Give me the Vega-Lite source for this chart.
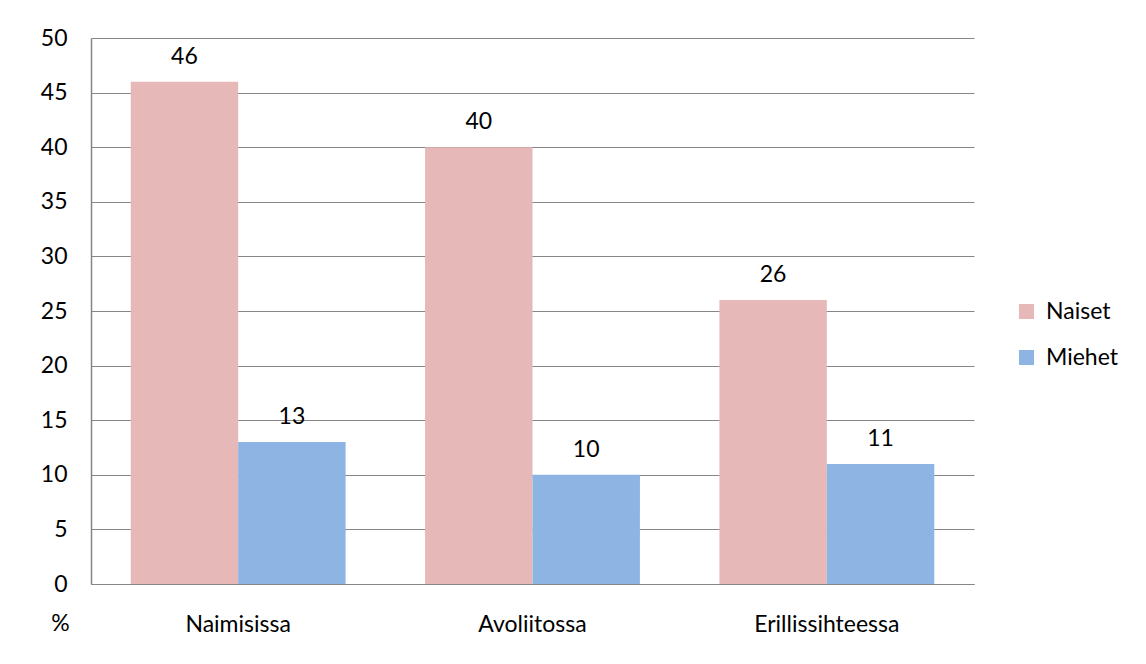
{
  "$schema": "https://vega.github.io/schema/vega-lite/v6.json",
  "width": 883,
  "height": 546,
  "autosize": {"type": "none"},
  "padding": {"left": 91, "top": 38, "right": 172, "bottom": 80},
  "background": "white",
  "config": {
    "font": "Lato",
    "view": {"stroke": null},
    "axis": {"labelFont": "Lato", "titleFont": "Lato", "labelColor": "#000", "titleColor": "#000"}
  },
  "data": {
    "values": [
      {"kategoria": "Naimisissa", "sukupuoli": "Naiset", "arvo": 46},
      {"kategoria": "Naimisissa", "sukupuoli": "Miehet", "arvo": 13},
      {"kategoria": "Avoliitossa", "sukupuoli": "Naiset", "arvo": 40},
      {"kategoria": "Avoliitossa", "sukupuoli": "Miehet", "arvo": 10},
      {"kategoria": "Erillissihteessa", "sukupuoli": "Naiset", "arvo": 26},
      {"kategoria": "Erillissihteessa", "sukupuoli": "Miehet", "arvo": 11}
    ]
  },
  "encoding": {
    "x": {
      "field": "kategoria", "type": "nominal", "sort": null,
      "scale": {"paddingInner": 0.27, "paddingOuter": 0.135},
      "axis": {"title": null, "labelAngle": 0, "labelFontSize": 23, "labelPadding": 29, "ticks": false, "domainColor": "#868686", "domainWidth": 1}
    },
    "xOffset": {"field": "sukupuoli", "type": "nominal", "sort": ["Naiset", "Miehet"], "scale": {"paddingInner": 0, "paddingOuter": 0}},
    "y": {
      "field": "arvo", "type": "quantitative",
      "scale": {"domain": [0, 50], "nice": false},
      "axis": {
        "values": [0, 5, 10, 15, 20, 25, 30, 35, 40, 45, 50],
        "title": "%", "titleAngle": 0, "titleFontSize": 23, "titleFontWeight": "normal",
        "titleX": -31, "titleY": 585, "titleBaseline": "middle", "titleAlign": "center",
        "labelFontSize": 23, "labelPadding": 24, "ticks": false,
        "grid": true, "gridColor": "#868686", "gridWidth": 1,
        "domainColor": "#868686", "domainWidth": 1.5
      }
    }
  },
  "layer": [
    {
      "mark": {"type": "bar"},
      "encoding": {
        "color": {
          "field": "sukupuoli", "type": "nominal", "sort": ["Naiset", "Miehet"],
          "scale": {"domain": ["Naiset", "Miehet"], "range": ["#E6B9B8", "#8EB4E3"]},
          "legend": {
            "title": null, "orient": "none", "legendX": 924, "legendY": 262,
            "symbolType": "square", "symbolSize": 225, "symbolStrokeWidth": 0,
            "labelFontSize": 23, "labelFont": "Lato", "labelColor": "#000", "labelOffset": 8, "rowPadding": 22
          }
        }
      }
    },
    {
      "mark": {"type": "text", "baseline": "bottom", "dy": -13, "fontSize": 23, "font": "Lato", "color": "#000"},
      "encoding": {"text": {"field": "arvo", "type": "quantitative"}}
    }
  ]
}
